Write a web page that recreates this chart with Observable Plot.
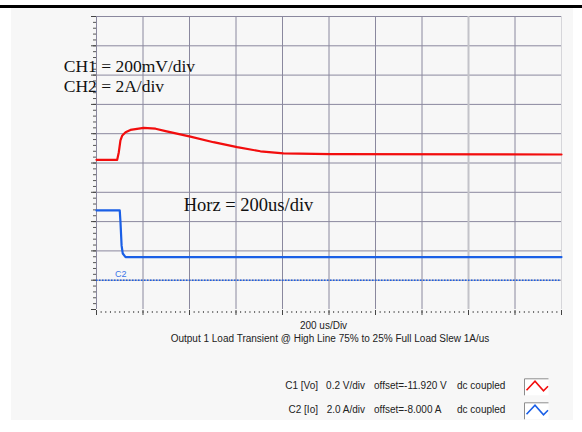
<!DOCTYPE html>
<html>
<head>
<meta charset="utf-8">
<script src="https://cdn.jsdelivr.net/npm/d3@7"></script>
<script src="https://cdn.jsdelivr.net/npm/@observablehq/plot@0.6"></script>
<style>
  body { margin: 0; background: #ffffff; }
  #wrap { position: relative; width: 582px; height: 432px; overflow: hidden; }
  #topbar { position: absolute; left: 0; top: 5px; width: 582px; height: 3px; background: #000; }
  #panel { position: absolute; left: 11px; top: 8px; width: 562px; height: 412px; background: #f7f7f7; }
  #chart { position: absolute; left: 0; top: 0; }
  #notes { position: absolute; left: 0; top: 0; }
</style>
</head>
<body>
<div id="wrap">
  <div id="topbar"></div>
  <div id="panel"></div>
  <div id="chart"></div>
  <svg id="notes" width="582" height="432" xmlns="http://www.w3.org/2000/svg"></svg>
</div>
<script>
// ---- data (time in microseconds, 200 us per division) ----
const redTime  = [0, 89, 96, 103, 111, 125, 146, 203, 254, 297, 404, 503, 605, 705, 804, 1006, 2000];
const redDiv   = [5.11, 5.11, 5.37, 5.77, 5.94, 6.05, 6.13, 6.20, 6.17, 6.09, 5.90, 5.71, 5.54, 5.40, 5.33, 5.30, 5.29]; // C1 Vo, screen divisions
const blueTime = [0, 100, 103, 108, 113, 125, 2000];
const blueAmp  = [4.76, 4.76, 4.0, 2.36, 1.82, 1.57, 1.58]; // C2 Io, amperes
const c2GroundDiv = 1;      // C2 ground marker (division)
const c2AmpsPerDiv = 2;
const timeDivUs = 200;
const divisionsX = 10;
const divisionsY = 10;

const textCH1 = "CH1 = 200mV/div";
const textCH2 = "CH2 = 2A/div";
const textHorz = "Horz = 200us/div";
const textC2 = "C2";
const xAxisLabel = "200 us/Div";
const caption = "Output 1 Load Transient @ High Line 75% to 25% Full Load Slew 1A/us";
const legendRows = [
  ["C1 [Vo]", "0.2 V/div", "offset=-11.920 V", "dc coupled"],
  ["C2 [Io]", "2.0 A/div", "offset=-8.000 A", "dc coupled"]
];

// ---- build tables ----
const red = redTime.map((t, i) => ({t, v: redDiv[i]}));
const blue = blueTime.map((t, i) => ({t, v: c2GroundDiv + blueAmp[i] / c2AmpsPerDiv}));

const redColor = "#f20d0d";
const blueColor = "#1a5fe6";
const gridColor = "#8a889e";

const xMax = timeDivUs * divisionsX;
const majorX = d3.range(0, xMax + 1, timeDivUs);
const minorX = d3.range(0, xMax + 1, timeDivUs / 10);
const majorY = d3.range(0, divisionsY + 0.01, 1);
const minorY = d3.range(0, divisionsY + 0.01, 0.2);

const serif = "'Liberation Serif', 'Times New Roman', serif";
const sans = "'Liberation Sans', Arial, sans-serif";

const chart = Plot.plot({
  width: 582,
  height: 320,
  marginLeft: 96,
  marginRight: 21,
  marginTop: 16,
  marginBottom: 11,
  x: {domain: [0, xMax]},
  y: {domain: [0, divisionsY]},
  style: {background: "transparent", overflow: "visible"},
  marks: [
    Plot.gridY(majorY.filter(d => d > 0), {stroke: gridColor, strokeOpacity: 1, strokeWidth: 1}),
    Plot.gridX(majorX.filter(d => d !== 1600 && d !== xMax), {stroke: gridColor, strokeOpacity: 1, strokeWidth: 1}),
    Plot.gridX([1600], {stroke: "#c3c3c9", strokeOpacity: 1, strokeWidth: 2}),
    Plot.gridX([xMax], {stroke: "#d6d6da", strokeOpacity: 1, strokeWidth: 1}),
    Plot.axisY(minorY, {anchor: "left", tickSize: 3, tickFormat: () => "", label: null, stroke: "#555", strokeWidth: 1}),
    Plot.axisY(majorY, {anchor: "left", tickSize: 5, tickFormat: () => "", label: null, stroke: "#444", strokeWidth: 1}),
    Plot.axisX(minorX, {anchor: "bottom", tickSize: 2, dy: 2, tickFormat: () => "", label: null, stroke: "#666", strokeWidth: 1}),
    Plot.axisX(majorX, {anchor: "bottom", tickSize: 5, dy: 1, tickFormat: () => "", label: null, stroke: "#444", strokeWidth: 1}),
    Plot.ruleY([c2GroundDiv], {stroke: blueColor, strokeWidth: 1.5, strokeDasharray: "1.5,1.5"}),
    Plot.line(red, {x: "t", y: "v", stroke: redColor, strokeWidth: 2.2}),
    Plot.line(blue, {x: "t", y: "v", stroke: blueColor, strokeWidth: 2.2}),
    Plot.text([textCH1], {text: d => d, x: -141, y: 8.1, textAnchor: "start", lineAnchor: "bottom", fontSize: 17.5, fontFamily: serif, fill: "#111"}),
    Plot.text([textCH2], {text: d => d, x: -141, y: 7.42, textAnchor: "start", lineAnchor: "bottom", fontSize: 17.5, fontFamily: serif, fill: "#111"}),
    Plot.text([textHorz], {text: d => d, x: 375, y: 3.36, textAnchor: "start", lineAnchor: "bottom", fontSize: 18.5, fontFamily: serif, fill: "#111"}),
    Plot.text([textC2], {text: d => d, x: 80, y: 1.1, textAnchor: "start", lineAnchor: "bottom", fontSize: 9, fontFamily: sans, fill: "#3c74e8"})
  ]
});
document.getElementById("chart").appendChild(chart);

// ---- caption and channel legend below the plot ----
const notes = d3.select("#notes");
notes.append("text").attr("x", 323.5).attr("y", 329).attr("text-anchor", "middle")
  .attr("font-family", sans).attr("font-size", 10).attr("fill", "#222").text(xAxisLabel);
notes.append("text").attr("x", 330).attr("y", 342).attr("text-anchor", "middle")
  .attr("font-family", sans).attr("font-size", 10).attr("fill", "#222").text(caption);

const rowBase = [389.3, 413.3];
const colX = [318, 365, 374, 457];
const colAnchor = ["end", "end", "start", "start"];
const rowColor = [redColor, blueColor];
legendRows.forEach((row, r) => {
  row.forEach((s, c) => {
    notes.append("text").attr("x", colX[c]).attr("y", rowBase[r]).attr("text-anchor", colAnchor[c])
      .attr("font-family", sans).attr("font-size", 10).attr("fill", "#222").text(s);
  });
  const top = rowBase[r] - 11;
  notes.append("rect").attr("x", 524.5).attr("y", top).attr("width", 24).attr("height", 17).attr("fill", "#ffffff");
  notes.append("path").attr("d", `M524.5,${top + 17}V${top + 0.5}H548.5`).attr("fill", "none").attr("stroke", "#8c8c8c").attr("stroke-width", 1);
  notes.append("path").attr("d", `M526.5,${top + 12}L535,${top + 3}L543.5,${top + 12.5}L548,${top + 8}`)
    .attr("fill", "none").attr("stroke", rowColor[r]).attr("stroke-width", 1.6);
});
</script>
</body>
</html>
